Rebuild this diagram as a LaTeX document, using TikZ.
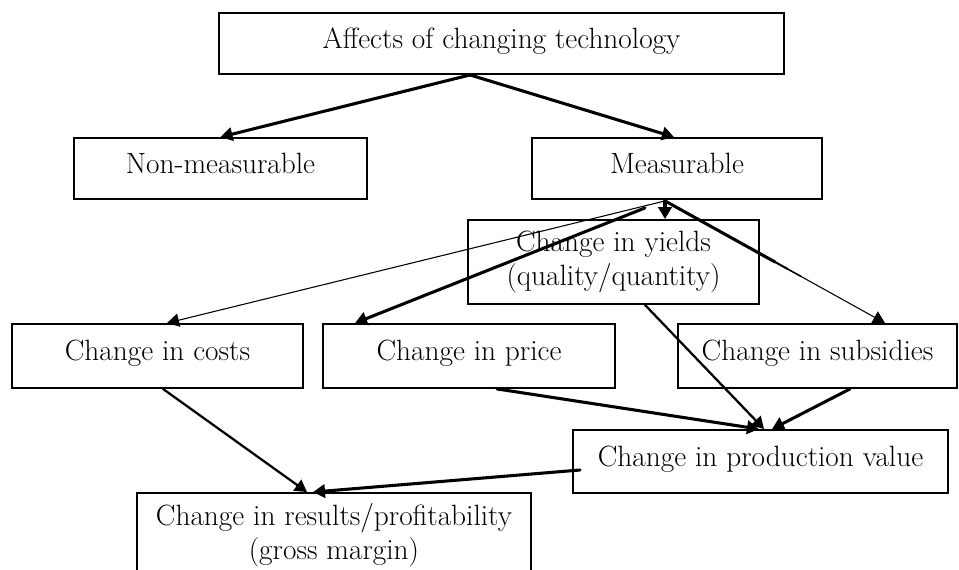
\documentclass[tikz,border=0pt]{standalone}
\usetikzlibrary{arrows.meta,calc}
\begin{document}
\begin{tikzpicture}[x=0.75pt,y=-0.75pt,
  box/.style={draw=black,line width=1.4pt,rectangle,inner sep=0pt,align=center,
    font=\fontsize{22}{25.5}\selectfont},
  onebox/.style={box,text height=15pt,text depth=8pt},
  link/.style={-{Triangle[length=9pt,width=10pt]},line cap=round},
  heavy/.style={link,line width=2.3pt},
  medium/.style={link,line width=1.7pt},
  light/.style={link,line width=0.8pt}]
\useasboundingbox (0,0) rectangle (959,570);
\clip (0,0) rectangle (959,570);

% boxes
\node[onebox,minimum width=423.75pt,minimum height=45.75pt] (top) at (501.5,43.5) {Affects of changing technology};
\node[onebox,minimum width=219.75pt,minimum height=45.75pt] (nonm) at (220.5,168.5) {Non-measurable};
\node[onebox,minimum width=217.5pt,minimum height=45.75pt] (meas) at (677,168.5) {Measurable};
\node[box,minimum width=218.25pt,minimum height=63pt] (yields) at (613.5,262) {Change in yields\\(quality/quantity)};
\node[onebox,minimum width=218.25pt,minimum height=48pt] (costs) at (157.5,356) {Change in costs};
\node[onebox,minimum width=219pt,minimum height=48pt] (price) at (469,356) {Change in price};
\node[onebox,minimum width=209.25pt,minimum height=48pt] (subs) at (817.5,356) {Change in subsidies};
\node[onebox,minimum width=281.25pt,minimum height=47.25pt] (prod) at (760.5,461.5) {Change in production value};
\node[box,minimum width=295.5pt,minimum height=63pt] (res) at (334,535) {Change in results/profitability\\(gross margin)};

% branching points
\coordinate (tfork) at ($(top.south)+(-31.5,0)$);
\coordinate (mfork) at ($(meas.south)+(-12,1)$);
\coordinate (pstart) at ($(mfork)+(-20,7)$);
\coordinate (subtip) at ($(subs.north)+(67.5,0)$);

% connectors
\draw[heavy] (tfork) -- (nonm.north);
\draw[heavy] (tfork) -- ($(meas.north)+(-3,0)$);
\draw[heavy] (mfork) -- ($(yields.north)+(51.5,0)$);
\draw[light] (mfork) -- ($(costs.north)+(9.5,0)$);
\draw[heavy] (pstart) -- ($(price.north)+(-114,0)$);
\draw[light] (mfork) -- (subtip);
% the subsidies connector is heavy near its start and thins out
\draw[line width=2.3pt,line cap=round] (mfork) -- ($(mfork)!0.5!(subtip)$);
\draw[line width=1.5pt] ($(mfork)!0.5!(subtip)$) -- ($(mfork)!0.56!(subtip)$);
\draw[line width=1.1pt] ($(mfork)!0.56!(subtip)$) -- ($(mfork)!0.62!(subtip)$);
\draw[medium] ($(yields.south)+(31.5,0)$) -- ($(prod.north)+(3.5,0)$);
\draw[heavy] ($(price.south)+(28,0)$) -- ($(prod.north)+(-1.5,0)$);
\draw[heavy] ($(subs.south)+(32.5,0)$) -- ($(prod.north)+(11.5,0)$);
\draw[medium] ($(costs.south)+(5.5,0)$) -- ($(res.north)+(-27,0)$);
\draw[heavy] ($(prod.west)+(8,8.5)$) -- ($(res.north)+(-21,0)$);
\end{tikzpicture}
\end{document}
